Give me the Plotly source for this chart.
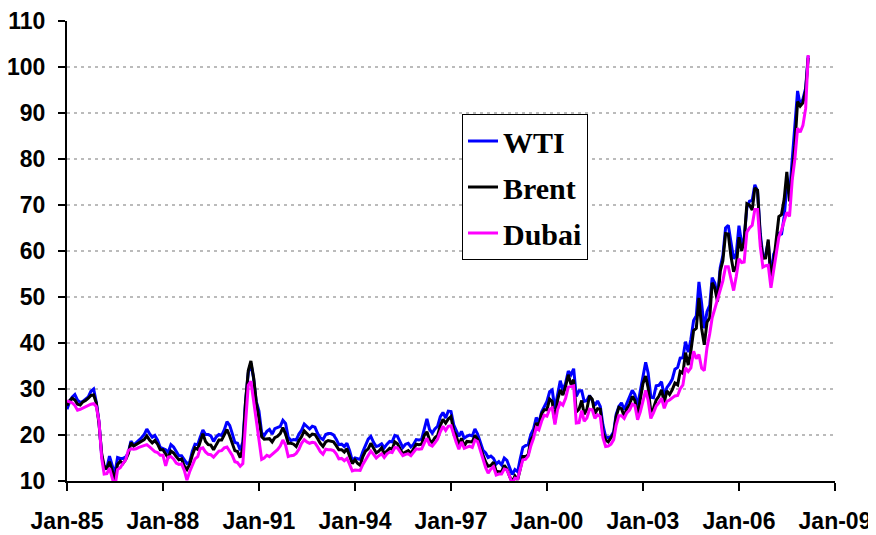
import pandas as pd
import plotly.graph_objects as go

# Monthly spot prices, Jan-1985 .. Mar-2008 (US$/bbl)
wti = [
    25.6, 27.3, 28.2, 28.8, 27.6, 27.1, 27.3, 27.8, 28.3, 29.5, 30.0, 27.2,  # 1985
    22.9, 15.5, 12.6, 12.8, 15.4, 13.4, 11.6, 15.1, 14.9, 14.9, 15.2, 16.1,  # 1986
    18.7, 17.8, 18.3, 18.7, 19.4, 20.1, 21.3, 20.3, 19.5, 19.9, 18.9, 17.3,  # 1987
    17.1, 16.8, 16.2, 17.9, 17.4, 16.5, 15.5, 15.5, 14.5, 13.8, 14.1, 16.4,  # 1988
    18.0, 17.9, 19.5, 21.1, 20.1, 20.1, 19.8, 18.6, 19.6, 20.1, 19.9, 21.1,  # 1989
    22.9, 22.1, 20.4, 18.4, 18.2, 16.7, 18.5, 27.3, 33.5, 35.6, 32.3, 27.3,  # 1990
    25.2, 20.5, 19.9, 20.8, 21.2, 20.2, 21.4, 21.7, 21.9, 23.2, 22.5, 19.5,  # 1991
    18.8, 19.0, 18.9, 20.2, 21.0, 22.4, 21.8, 21.3, 21.9, 21.7, 20.3, 19.4,  # 1992
    19.0, 20.1, 20.3, 20.3, 20.0, 19.1, 17.9, 18.0, 17.5, 18.2, 16.6, 14.5,  # 1993
    15.0, 14.8, 14.7, 16.4, 17.9, 19.1, 19.7, 18.4, 17.5, 17.7, 18.1, 17.2,  # 1994
    18.0, 18.6, 18.5, 19.9, 19.7, 18.5, 17.3, 18.0, 18.2, 17.4, 18.0, 19.0,  # 1995
    18.9, 19.1, 21.3, 23.5, 21.2, 20.4, 21.3, 21.9, 24.0, 24.9, 23.7, 25.2,  # 1996
    25.1, 22.2, 21.0, 19.7, 20.8, 19.3, 19.7, 20.0, 19.8, 21.3, 20.2, 18.3,  # 1997
    16.7, 16.1, 15.1, 15.4, 14.9, 13.7, 14.2, 13.5, 15.0, 14.5, 13.0, 11.4,  # 1998
    12.5, 12.0, 14.7, 17.3, 17.7, 17.9, 20.1, 21.3, 23.8, 22.7, 25.0, 26.1,  # 1999
    27.3, 29.4, 29.8, 25.7, 28.8, 31.8, 29.7, 31.3, 33.9, 33.1, 34.4, 28.4,  # 2000
    29.6, 29.6, 27.3, 27.5, 28.6, 27.6, 26.4, 27.4, 26.2, 22.2, 19.6, 19.4,  # 2001
    19.7, 20.7, 24.5, 26.2, 27.0, 25.5, 27.0, 28.4, 29.7, 28.8, 26.4, 29.5,  # 2002
    33.0, 35.8, 33.5, 28.2, 28.1, 30.7, 30.8, 31.6, 28.3, 30.3, 31.1, 32.1,  # 2003
    34.3, 34.7, 36.7, 36.8, 40.3, 38.0, 40.8, 44.9, 45.9, 53.3, 48.5, 43.2,  # 2004
    46.8, 48.2, 54.2, 53.0, 49.8, 56.4, 59.0, 65.0, 65.6, 62.3, 58.3, 59.4,  # 2005
    65.5, 61.6, 62.7, 69.4, 70.8, 71.0, 74.4, 73.0, 63.8, 58.9, 59.1, 62.0,  # 2006
    54.5, 59.3, 60.4, 64.0, 63.5, 67.5, 74.1, 72.4, 79.9, 85.8, 94.8, 91.7,  # 2007
    93.0, 95.4, 102.4,                                                       # 2008
]
brent = [
    26.4, 27.5, 28.0, 27.6, 26.7, 26.5, 27.2, 27.5, 28.0, 28.6, 28.7, 27.0,
    22.5, 15.9, 13.3, 12.6, 14.2, 12.3, 10.3, 13.6, 14.3, 13.8, 14.6, 15.9,
    18.3, 17.6, 17.9, 18.3, 18.6, 19.0, 19.8, 18.9, 18.3, 18.8, 18.0, 16.8,
    16.8, 15.8, 15.0, 16.5, 16.1, 15.3, 14.6, 14.8, 13.2, 12.5, 13.6, 15.6,
    17.2, 16.9, 18.7, 20.3, 18.6, 17.9, 17.8, 16.8, 17.9, 18.9, 18.9, 19.9,
    21.2, 19.8, 18.4, 16.6, 16.4, 15.1, 17.2, 27.2, 34.0, 36.1, 32.5, 27.2,
    23.6, 19.6, 19.1, 19.2, 19.2, 18.5, 19.4, 19.7, 20.3, 21.6, 20.2, 18.2,
    18.2, 18.0, 17.5, 18.8, 19.6, 20.9, 20.2, 19.7, 20.2, 20.1, 19.2, 18.2,
    17.5, 18.5, 18.8, 18.7, 18.5, 17.7, 16.8, 16.8, 16.3, 17.0, 15.5, 13.8,
    14.6, 13.8, 13.4, 15.3, 16.5, 17.0, 18.2, 17.2, 16.1, 16.5, 17.2, 15.9,
    16.6, 17.1, 16.9, 18.5, 18.1, 16.9, 15.9, 16.3, 16.6, 16.0, 17.0, 18.0,
    17.9, 18.0, 19.9, 20.7, 18.9, 18.4, 19.4, 19.9, 22.0, 23.4, 22.6, 23.5,
    24.0, 20.9, 19.9, 17.8, 19.3, 17.6, 18.6, 18.5, 18.5, 19.9, 19.1, 17.2,
    15.4, 14.1, 13.2, 13.4, 14.1, 12.1, 12.0, 12.0, 13.4, 12.6, 11.0, 9.8,
    11.1, 10.3, 12.5, 15.3, 15.3, 15.7, 19.0, 19.9, 22.6, 22.0, 24.6, 25.5,
    25.5, 27.8, 27.3, 22.7, 27.6, 29.8, 28.7, 30.6, 33.1, 31.0, 32.0, 25.0,
    25.6, 27.5, 24.5, 25.6, 28.5, 27.8, 24.6, 25.7, 25.6, 20.5, 18.9, 18.5,
    19.4, 20.3, 24.0, 26.0, 25.7, 24.1, 25.7, 26.6, 28.4, 27.5, 24.3, 28.0,
    31.2, 32.8, 30.3, 25.0, 25.8, 27.6, 28.4, 29.8, 27.1, 29.6, 28.8, 29.8,
    31.3, 30.9, 33.8, 33.4, 37.9, 35.2, 38.2, 42.7, 43.2, 49.8, 43.1, 39.6,
    44.5, 45.5, 53.1, 51.9, 49.0, 55.6, 57.9, 63.8, 63.7, 58.9, 55.5, 56.7,
    63.0, 60.0, 62.1, 70.3, 70.0, 68.9, 73.7, 73.2, 62.8, 58.4, 58.5, 62.5,
    53.7, 57.6, 62.1, 67.5, 67.9, 71.3, 77.2, 70.8, 77.1, 82.9, 92.5, 91.5,
    92.2, 94.9, 102.0,
]
dubai = [
    27.4, 27.2, 27.0, 26.4, 25.4, 25.6, 25.9, 26.1, 26.4, 26.7, 26.8, 26.2,
    23.0, 15.0, 11.5, 11.6, 12.8, 10.8, 8.6, 12.5, 12.9, 13.8, 14.6, 16.6,
    17.0, 16.9, 17.0, 17.3, 17.5, 17.6, 17.9, 17.4, 16.8, 16.4, 16.2, 15.6,
    15.6, 13.3, 15.2, 15.3, 14.8, 13.9, 13.6, 13.7, 12.3, 10.2, 12.0, 13.6,
    14.8, 15.3, 17.0, 17.2, 16.3, 15.8, 15.7, 15.2, 15.9, 16.5, 16.6, 17.2,
    17.4, 16.6, 15.6, 14.2, 14.0, 13.2, 13.8, 22.5, 30.8, 31.7, 27.5, 23.0,
    18.5, 14.7, 15.0, 15.6, 15.3, 15.8, 16.2, 16.8, 17.6, 18.9, 17.8, 15.3,
    15.5, 15.6, 16.0, 16.9, 18.2, 19.0, 18.5, 18.2, 18.4, 18.3, 17.4, 16.4,
    15.8, 16.9, 16.8, 16.8, 16.6, 15.9, 14.8, 14.9, 14.4, 14.9, 13.6, 12.2,
    12.4, 12.3, 12.3, 13.6, 14.6, 15.4, 16.5, 15.8, 15.0, 15.5, 15.9, 15.1,
    15.9, 16.3, 16.2, 17.3, 17.2, 16.3, 15.5, 15.8, 15.9, 15.5, 16.3, 17.0,
    16.9, 17.0, 18.2, 19.3, 17.9, 17.6, 18.3, 19.1, 20.7, 21.9, 21.0, 21.9,
    22.0, 20.0, 18.4, 16.9, 18.5, 17.1, 17.3, 17.6, 17.3, 18.9, 18.6, 16.8,
    14.5, 12.9, 11.7, 12.6, 13.1, 11.3, 11.5, 11.5, 12.6, 12.4, 11.0, 9.4,
    10.6, 10.5, 12.5, 14.6, 14.7, 15.4, 17.6, 19.3, 21.6, 21.1, 23.0, 24.3,
    24.1, 25.6, 25.9, 22.3, 25.5, 27.0, 26.5, 28.0, 30.4, 30.5, 30.7, 22.6,
    22.7, 25.3, 23.0, 23.7, 25.6, 25.5, 23.6, 24.4, 24.0, 19.4, 17.5, 17.6,
    18.0, 19.0, 22.1, 24.2, 24.2, 23.6, 24.8, 25.4, 26.7, 26.4, 23.3, 25.0,
    27.1, 29.7, 27.5, 23.6, 24.8, 26.3, 27.0, 28.0, 25.8, 27.3, 27.6, 28.0,
    28.5, 28.6, 30.0, 30.9, 34.6, 33.8, 34.6, 38.2, 36.6, 37.5, 34.5, 34.0,
    39.0, 42.0, 45.5, 47.5, 49.5, 51.5, 53.5, 56.6, 56.6, 54.0, 51.4, 54.5,
    58.3, 57.5, 57.6, 64.1, 65.0, 65.6, 69.0, 69.0, 61.0, 56.5, 56.8, 56.9,
    52.0, 55.8, 58.8, 63.0, 64.5, 66.5, 68.4, 67.5, 75.5, 80.0, 86.7, 85.8,
    87.3, 91.0, 102.6,
]
series_names = ["WTI", "Brent", "Dubai"]
series_colors = ["#0000FF", "#000000", "#FF00FF"]

months = pd.date_range("1985-01-01", periods=len(wti), freq="MS")

fig = go.Figure()
for name, vals, col in zip(series_names, [wti, brent, dubai], series_colors):
    fig.add_trace(go.Scatter(
        x=months, y=vals, mode="lines", name=name, legendgroup=name,
        line=dict(color=col, width=3),
    ))

tickfont = dict(family="Liberation Sans, Arial, sans-serif", size=23,
                color="black", weight="bold")

# the page body adds an 8px offset, so margins are shifted by 8px
fig.update_layout(
    width=876, height=535,
    margin=dict(l=59, r=49, t=13, b=62),
    paper_bgcolor="white", plot_bgcolor="white",
    showlegend=True,
    legend=dict(
        x=(462 - 67) / 768, y=(481 - 114) / 460, xanchor="left", yanchor="top",
        bgcolor="white", bordercolor="black", borderwidth=1,
        traceorder="grouped", tracegroupgap=4,
        font=dict(family="Liberation Serif, Times New Roman, serif", size=30,
                  color="black", weight="bold"),
    ),
    xaxis=dict(
        type="date", automargin=False,
        range=["1985-01-01", "2009-01-01"],
        tick0="1985-01-01", dtick="M36", tickformat="%b-%y",
        showgrid=False, showline=True, linecolor="black", linewidth=2,
        ticks="outside", ticklen=8, tickwidth=1.5, tickcolor="black",
        tickfont=tickfont, ticklabelstandoff=10, ticklabeloverflow="allow",
    ),
    yaxis=dict(
        range=[10, 110], dtick=10, tick0=10, automargin=False,
        showgrid=True, gridcolor="#BBBBBB", gridwidth=1.5, griddash="3px,4px",
        zeroline=False,
        showline=True, linecolor="black", linewidth=2,
        ticks="outside", ticklen=7, tickwidth=1.5, tickcolor="black",
        tickfont=tickfont, ticklabelstandoff=8,
    ),
)

fig.write_html("out.html")
